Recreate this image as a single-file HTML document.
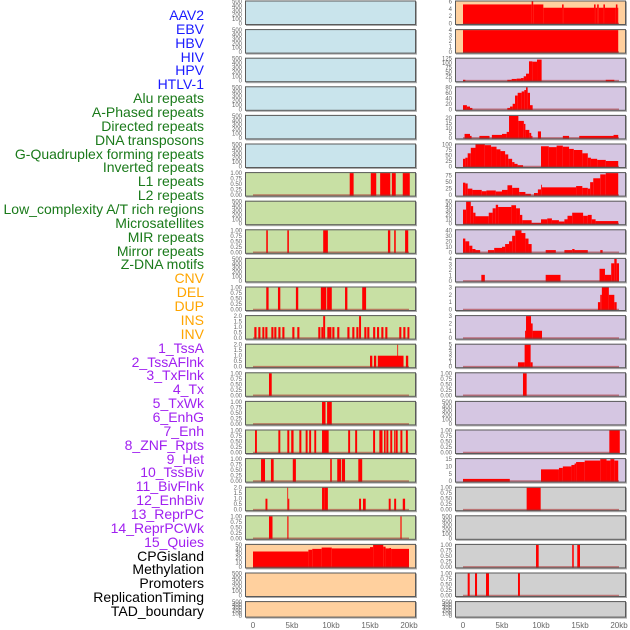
<!DOCTYPE html>
<html><head><meta charset="utf-8"><style>
html,body{margin:0;padding:0;background:#fff;}
body{width:630px;height:630px;overflow:hidden;position:relative;font-family:"Liberation Sans",sans-serif;}
#labels{position:absolute;left:0;top:0;width:204px;}
.lab{position:absolute;right:0;font-size:14px;line-height:14px;white-space:nowrap;text-align:right;}
svg{position:absolute;left:0;top:0;}
</style></head><body>
<div id="labels"></div>
<svg id="chart" width="630" height="630"></svg>
<script>
const labelNames=["AAV2","EBV","HBV","HIV","HPV","HTLV-1","Alu repeats","A-Phased repeats","Directed repeats","DNA transposons","G-Quadruplex forming repeats","Inverted repeats","L1 repeats","L2 repeats","Low_complexity A/T rich regions","Microsatellites","MIR repeats","Mirror repeats","Z-DNA motifs","CNV","DEL","DUP","INS","INV","1_TssA","2_TssAFlnk","3_TxFlnk","4_Tx","5_TxWk","6_EnhG","7_Enh","8_ZNF_Rpts","9_Het","10_TssBiv","11_BivFlnk","12_EnhBiv","13_ReprPC","14_ReprPCWk","15_Quies","CPGisland","Methylation","Promoters","ReplicationTiming","TAD_boundary"];
const labelColors=["#1a1aff","#1a1aff","#1a1aff","#1a1aff","#1a1aff","#1a1aff","#1a7a1a","#1a7a1a","#1a7a1a","#1a7a1a","#1a7a1a","#1a7a1a","#1a7a1a","#1a7a1a","#1a7a1a","#1a7a1a","#1a7a1a","#1a7a1a","#1a7a1a","#ffa500","#ffa500","#ffa500","#ffa500","#ffa500","#a020f0","#a020f0","#a020f0","#a020f0","#a020f0","#a020f0","#a020f0","#a020f0","#a020f0","#a020f0","#a020f0","#a020f0","#a020f0","#a020f0","#a020f0","#000","#000","#000","#000","#000"];
const xTicks=[0,5,10,15,20];
const xTickLabels=["0","5kb","10kb","15kb","20kb"];
const leftBg=["#c9e4ec","#c9e4ec","#c9e4ec","#c9e4ec","#c9e4ec","#c9e4ec","#c8e0a4","#c8e0a4","#c8e0a4","#c8e0a4","#c8e0a4","#c8e0a4","#c8e0a4","#c8e0a4","#c8e0a4","#c8e0a4","#c8e0a4","#c8e0a4","#c8e0a4","#ffd09e","#ffd09e","#ffd09e"];
const rightBg=["#ffd09e","#ffd09e","#d5c6e2","#d5c6e2","#d5c6e2","#d5c6e2","#d5c6e2","#d5c6e2","#d5c6e2","#d5c6e2","#d5c6e2","#d5c6e2","#d5c6e2","#d5c6e2","#d5c6e2","#d5c6e2","#d5c6e2","#d0d0d0","#d0d0d0","#d0d0d0","#d0d0d0","#d0d0d0"];
const leftMax=[500,500,500,500,500,500,1,500,1,500,1,2,2,1,1,1,1,2,1,50,500,500];
const rightMax=[6,4,125,80,22,100,85,50,40,4,3,3,5,1,500,1,15,1,500,1,1,500];
const tickSets={500:[0,100,200,300,400,500],1:[0,0.25,0.5,0.75,1],2:[0,0.5,1,1.5,2],6:[0,2,4,6],4:[0,1,2,3,4],125:[0,25,50,75,100,125],80:[0,20,40,60,80],22:[0,5,10,15,20],100:[0,25,50,75,100],85:[0,25,50,75],50:[0,10,20,30,40,50],40:[0,10,20,30,40],3:[0,1,2,3],5:[0,1,2,3,4,5],15:[0,5,10,15]};
const tickDigits={1:2,2:1};
// data: [startKb,endKb,value]
const L6=[[12.4,12.9,1],[15.1,15.8,1],[16.3,17.6,1],[17.8,18.3,1],[19.2,20.1,1]];
const L8=[[1.7,1.9,1],[4.4,4.6,1],[9.0,9.6,1],[17.3,17.6,1],[18.1,18.3,1],[19.5,19.9,1]];
const L10=[[1.7,2.0,1],[3.2,3.5,1],[5.5,5.8,1],[8.7,9.4,1],[9.5,10.1,1],[11.8,12.1,1],[14.0,14.5,1]];
const L11=[[0.17,0.45,1],[0.68,0.95,1],[1.2,1.45,1],[1.58,1.85,1],[2.35,2.62,1],[2.73,3.0,1],[3.25,3.52,1],[3.76,4.03,1],[5.04,5.31,1],[5.68,5.95,1],[8.37,8.64,1],[8.76,9.0,1],[9.0,9.25,2],[9.53,9.8,1],[9.8,10.05,1],[10.17,10.44,1],[10.8,11.07,1],[12.1,12.37,1],[12.73,13.0,1],[13.25,13.52,1],[13.6,13.85,2],[14.27,14.54,1],[14.65,14.92,1],[15.4,15.67,1],[15.9,16.17,1],[16.45,16.72,1],[16.96,17.23,1],[18.75,19.02,1],[19.27,19.54,1],[19.8,20.05,1]];
const L12=[[15.0,15.3,1],[15.5,15.8,1],[16.0,19.3,1],[18.5,18.6,2],[19.6,19.9,1]];
const L13=[[2.05,2.4,1]];
const L14=[[8.85,9.3,1],[9.5,10.1,1]];
const L15=[[0.26,0.5,1],[3.25,3.5,1],[4.4,4.65,1],[4.9,5.2,1],[5.94,6.2,1],[6.75,7.0,1],[7.2,7.45,1],[7.86,8.1,1],[8.85,9.7,1],[12.2,12.45,1],[13.1,13.35,1],[15.4,15.65,1],[16.2,16.6,1],[16.8,17.0,1],[17.1,17.35,1],[17.6,17.85,1],[18.1,18.25,1],[18.3,18.55,1],[18.9,19.15,1],[19.6,19.85,1]];
const L16=[[1.03,1.54,1],[2.3,2.65,1],[5.1,5.5,1],[9.9,10.1,1],[10.8,11.3,1],[11.4,11.8,1],[13.5,14.0,1]];
const L17=[[1.6,1.85,1],[4.4,4.5,2],[4.5,4.65,1],[8.85,9.2,2],[9.2,9.6,2],[13.6,13.85,1],[14.1,14.45,1],[17.4,17.65,1],[18.1,18.35,1],[19.2,19.5,1]];
const L18=[[2.05,2.5,1],[4.4,4.55,1],[18.9,19.05,1]];
const L19=[[0,7.1,35],[7.1,7.6,39],[7.6,8.8,41],[8.8,10.1,44],[10.1,15.0,42],[15.0,15.4,45],[15.4,16.7,50],[16.7,17.0,46],[17.0,17.5,42],[17.5,17.7,43],[17.7,20.0,41]];
const R0=[[0,8.8,5.2],[8.8,9.0,6],[9.0,10.3,5.2],[10.3,12.7,4.3],[12.7,12.9,5.2],[12.9,16.8,4.3],[16.8,17.0,5.2],[17.0,17.2,4.3],[17.2,17.4,5.2],[17.4,18.0,4.3],[18.0,18.2,5.2],[18.2,19.6,4.3],[19.6,19.8,5.2],[19.8,19.9,4.3]];
const R1=[[0,19.9,4]];
const R2=[[0,0.3,5],[5.68,6.24,5],[6.24,6.88,10],[6.88,7.44,12],[7.44,7.78,15],[7.78,8.08,25],[8.08,8.46,40],[8.46,8.89,110],[8.89,9.49,108],[9.49,10.08,120],[18.3,19.4,5]];
const R3=[[0,0.5,15],[0.5,0.9,10],[0.9,1.2,5],[5.68,6.03,5],[6.03,6.37,10],[6.37,6.67,20],[6.67,7.01,50],[7.01,7.52,60],[7.52,7.86,65],[7.86,8.08,70],[8.08,8.29,80],[8.29,8.59,60],[8.59,8.93,15]];
const R4=[[0.2,0.9,4],[0.9,1.1,2],[2.1,3.4,2],[3.7,5.0,3],[5.0,5.6,4],[5.6,5.9,6],[5.9,7.1,22],[7.1,7.8,17],[7.8,8.0,14],[8.0,8.5,8],[8.5,8.75,5],[8.75,8.9,2],[9.6,10.0,6.5],[12.8,13.6,2],[14.9,19.3,2],[19.3,19.9,3]];
const R5=[[0,0.3,35],[0.3,0.6,40],[0.6,1.0,60],[1.0,1.6,85],[1.6,2.8,100],[2.8,3.6,97],[3.6,4.3,90],[4.3,4.8,78],[4.8,5.4,70],[5.4,5.8,55],[5.8,6.3,35],[6.3,6.6,20],[6.6,7.0,12],[7.0,7.7,6],[10.0,11.0,92],[11.0,12.0,88],[12.0,12.8,95],[12.8,13.6,90],[13.6,14.2,80],[14.2,15.3,75],[15.3,16.0,60],[16.0,16.4,40],[16.4,17.2,35],[17.2,18.3,30],[18.3,19.9,25]];
const R6=[[0,0.3,48],[0.3,0.6,45],[0.6,1.2,25],[1.2,2.4,20],[2.4,3.0,15],[3.0,4.2,18],[4.2,5.0,14],[5.0,5.7,20],[5.7,6.3,38],[6.3,7.2,28],[7.2,8.0,12],[8.0,8.7,5],[9.1,9.6,8],[9.6,10.0,22],[10.0,10.1,40],[10.1,14.5,30],[14.5,15.3,35],[15.3,16.0,28],[16.0,16.3,25],[16.3,16.7,50],[16.7,17.6,65],[17.6,18.3,80],[18.3,19.9,85]];
const R7=[[0,0.4,32],[0.4,1.0,50],[1.0,1.3,40],[1.3,1.6,25],[1.6,3.3,17],[3.3,3.8,25],[3.8,4.2,35],[4.2,4.5,43],[4.5,6.2,38],[6.2,6.8,42],[6.8,7.3,35],[7.3,7.6,20],[7.6,8.8,8],[8.8,10.0,2],[10.0,10.8,10],[10.8,11.4,12],[11.4,12.3,8],[12.3,13.0,5],[13.0,13.4,10],[13.4,14.0,18],[14.0,15.4,25],[15.4,16.0,18],[16.0,16.5,20],[16.5,17.0,10],[17.0,19.9,6]];
const R8=[[0,0.3,25],[0.3,0.8,20],[0.8,1.2,12],[1.2,1.6,6],[1.6,2.2,4],[3.2,4.0,4],[4.0,5.0,8],[5.0,5.4,10],[5.4,5.9,15],[5.9,6.3,20],[6.3,6.7,30],[6.7,7.5,40],[7.5,8.0,35],[8.0,8.4,25],[8.4,8.8,15],[10.6,11.9,4],[13.0,14.0,4],[14.0,14.3,6],[14.3,16.0,4],[17.6,17.9,4]];
const R9=[[2.35,2.8,1.1],[10.6,12.5,1.1],[17.5,18.2,2.2],[18.2,19.0,1.1],[19.0,19.4,3.2],[19.4,19.7,4],[19.7,20.0,3.2]];
const R10=[[17.3,17.6,1],[17.6,17.8,2],[17.8,18.7,3],[18.7,19.4,2],[19.4,19.7,1]];
const R11=[[7.96,8.08,1],[8.08,8.72,3],[8.72,8.93,2],[8.93,10.13,1]];
const R12=[[7.05,7.9,1],[7.9,8.67,5],[8.67,8.93,1]];
const R13=[[7.69,8.16,1]];
const R15=[[18.76,20.1,1]];
const R16=[[0,6.0,1.5],[10.0,12.3,8],[12.3,12.8,9],[12.8,13.9,10],[13.9,14.3,11],[14.3,14.5,12],[14.5,15.6,13],[15.6,17.6,14],[17.6,18.4,15],[18.4,18.9,14],[18.9,19.4,15],[19.4,19.9,14]];
const R17=[[8.16,9.96,1]];
const R19=[[9.36,9.7,1],[14.0,14.2,1],[14.65,15.0,1]];
const R20=[[0.6,0.86,1],[1.54,1.8,1],[2.95,3.33,1],[7.05,7.3,1]];
const leftData=[null,null,null,null,null,null,L6,null,L8,null,L10,L11,L12,L13,L14,L15,L16,L17,L18,L19,null,null];
const rightData=[R0,R1,R2,R3,R4,R5,R6,R7,R8,R9,R10,R11,R12,R13,null,R15,R16,R17,null,R19,R20,null];

const NS="http://www.w3.org/2000/svg";
const svg=document.getElementById('chart');
function mk(tag,attrs,parent){const e=document.createElementNS(NS,tag);for(const k in attrs)e.setAttribute(k,attrs[k]);(parent||svg).appendChild(e);return e;}
// labels
const labDiv=document.getElementById('labels');
labelNames.forEach((n,i)=>{const d=document.createElement('div');d.className='lab';d.style.top=(8+i*13.86)+'px';d.style.color=labelColors[i];d.textContent=n;


labDiv.appendChild(d);});
const cols=[{x:245,bg:leftBg,max:leftMax,data:leftData,name:'left'},{x:455,bg:rightBg,max:rightMax,data:rightData,name:'right'}];
const PW=171;
function rowTop(i){return 0.5+i*28.6;}
function rowH(i){return i===21?16.5:24.5;}
cols.forEach(col=>{
  const xs=kb=>col.x+8+kb*7.8;
  for(let i=0;i<22;i++){
    const top=rowTop(i),h=rowH(i),max=col.max[i];
    const g=mk('g',{});
    
    
    mk('rect',{x:col.x+1,y:top+1,width:PW,height:h,fill:'#aaa'},g);
    const bg=mk('rect',{x:col.x,y:top,width:PW,height:h,fill:col.bg[i]},g);
    
    
    const ys=v=>top+1+(1-v/max)*(h-2.5);
    const ticks=tickSets[max]||[0,max];
    const dg=tickDigits[max]||0;
    ticks.forEach(t=>{const tx=mk('text',{x:col.x-3,y:ys(t)+2,'text-anchor':'end','font-size':'6','fill':'#666','font-family':'Liberation Sans, sans-serif'},g);tx.textContent=t.toFixed(dg);
      
      });
    const data=col.data[i];
    if(data){
      data.forEach(d=>{const y=ys(d[2]);const r=mk('rect',{x:xs(d[0]),y:y,width:Math.max(0.8,xs(d[1])-xs(d[0])),height:ys(0)-y+0.8,fill:'#ff0000'},g);
        
        });
      const bl=mk('line',{x1:xs(0),x2:xs(20),y1:ys(0),y2:ys(0),stroke:'rgba(170,40,40,0.55)','stroke-width':1.6},g);
      
      
    }
    const br=mk('rect',{x:col.x+0.5,y:top+0.5,width:PW-1,height:h-1,fill:'none',stroke:'#5a5a5a','stroke-width':1},g);
    
    
  }
  xTicks.forEach((t,j)=>{const tx=mk('text',{x:xs(t),y:628,'text-anchor':'middle','font-size':'8','fill':'#666','font-family':'Liberation Sans, sans-serif'});tx.textContent=xTickLabels[j];
    
    });
});
</script>
</body></html>
